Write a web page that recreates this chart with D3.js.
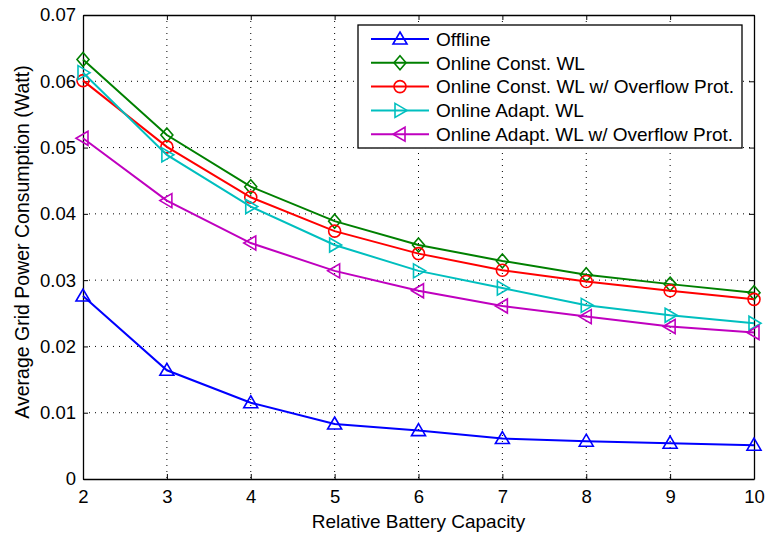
<!DOCTYPE html>
<meta charset="utf-8">
<style>
  body { margin: 0; background: #fff; }
  svg text { font-family: "Liberation Sans", Arial, sans-serif; fill: #000; }
  .grid line { stroke: #000; stroke-width: 1; stroke-dasharray: 1 5; }
  .axis path, .axis line { stroke: #000; }
</style>
<body>
<svg width="766" height="535"></svg>
<script src="https://d3js.org/d3.v7.min.js"></script>
<script>
  // data
  var capacity = [2, 3, 4, 5, 6, 7, 8, 9, 10];
  var offline       = [0.0276, 0.0164, 0.0115, 0.0083, 0.0073, 0.0061, 0.0057, 0.0054, 0.0051];
  var constWL       = [0.0633, 0.0519, 0.0441, 0.0389, 0.0353, 0.0329, 0.0308, 0.0294, 0.0281];
  var constWLProt   = [0.0601, 0.0501, 0.0425, 0.0374, 0.0340, 0.0315, 0.0298, 0.0284, 0.0271];
  var adaptWL       = [0.0613, 0.0489, 0.0411, 0.0353, 0.0314, 0.0288, 0.0262, 0.0247, 0.0235];
  var adaptWLProt   = [0.0514, 0.0420, 0.0356, 0.0314, 0.0284, 0.0261, 0.0245, 0.0230, 0.0221];
  var seriesNames = ["Offline", "Online Const. WL", "Online Const. WL w/ Overflow Prot.",
                     "Online Adapt. WL", "Online Adapt. WL w/ Overflow Prot."];
  var seriesColors = ["#0000ff", "#008000", "#ff0000", "#00bfbf", "#bf00bf"];
  var seriesMarkers = ["up", "diamond", "circle", "right", "left"];
  var yTicks = [0, 0.01, 0.02, 0.03, 0.04, 0.05, 0.06, 0.07];

  var series = [offline, constWL, constWLProt, adaptWL, adaptWLProt];

  // plot box (window.top is reserved, so use other names)
  var pLeft = 83, pRight = 754, pTop = 15, pBottom = 479;
  var x = d3.scaleLinear().domain([2, 10]).range([pLeft, pRight]);
  var y = d3.scaleLinear().domain([0, 0.07]).range([pBottom, pTop]);

  var svg = d3.select("svg");

  // grid
  var grid = svg.append("g").attr("class", "grid");
  grid.selectAll(".gx").data(capacity.slice(1, -1)).enter().append("line")
    .attr("x1", function(d) { return x(d); }).attr("x2", function(d) { return x(d); })
    .attr("y1", pTop).attr("y2", pBottom);
  grid.selectAll(".gy").data(yTicks.slice(1, -1)).enter().append("line")
    .attr("y1", function(d) { return y(d); }).attr("y2", function(d) { return y(d); })
    .attr("x1", pLeft).attr("x2", pRight);

  // axes (ticks inward, box all round)
  svg.append("g").attr("class", "axis").attr("transform", "translate(0," + pBottom + ")")
    .call(d3.axisBottom(x).tickValues(capacity).tickSizeInner(-5).tickSizeOuter(0).tickPadding(11));
  svg.append("g").attr("class", "axis").attr("transform", "translate(" + pLeft + ",0)")
    .call(d3.axisLeft(y).tickValues(yTicks).tickSizeInner(-5).tickSizeOuter(0).tickPadding(7)
      .tickFormat(function(d) { return d === 0 ? "0" : d3.format(".2f")(d); }));
  svg.append("g").attr("class", "axis").attr("transform", "translate(0," + pTop + ")")
    .call(d3.axisTop(x).tickValues(capacity).tickSizeInner(-5).tickSizeOuter(0).tickFormat(""));
  svg.append("g").attr("class", "axis").attr("transform", "translate(" + pRight + ",0)")
    .call(d3.axisRight(y).tickValues(yTicks).tickSizeInner(-5).tickSizeOuter(0).tickFormat(""));
  svg.selectAll(".axis text").style("font-size", "18.5px").attr("fill", "#000");
  svg.selectAll(".axis .domain").attr("stroke-width", 1.3);

  svg.append("text").attr("x", (pLeft + pRight) / 2).attr("y", 528)
    .attr("text-anchor", "middle").style("font-size", "19px").text("Relative Battery Capacity");
  svg.append("text").attr("transform", "translate(29,242) rotate(-90)")
    .attr("text-anchor", "middle").style("font-size", "19.5px").text("Average Grid Power Consumption (Watt)");

  // marker shapes
  function markerPath(type) {
    if (type === "up") return "M0,-7L7,5L-7,5Z";
    if (type === "right") return "M-5,-7L7,0L-5,7Z";
    if (type === "left") return "M5,-7L-7,0L5,7Z";
    if (type === "diamond") return "M0,-7L6,0L0,7L-6,0Z";
    return null;
  }
  function drawMarker(g, type, color) {
    if (type === "circle") {
      g.append("circle").attr("r", 6).attr("fill", "none").attr("stroke", color).attr("stroke-width", 1.6);
    } else {
      g.append("path").attr("d", markerPath(type)).attr("fill", "none")
        .attr("stroke", color).attr("stroke-width", 1.6);
    }
  }

  var line = d3.line().x(function(d, i) { return x(capacity[i]); }).y(function(d) { return y(d); });

  series.forEach(function(vals, s) {
    svg.append("path").datum(vals).attr("d", line).attr("fill", "none")
      .attr("stroke", seriesColors[s]).attr("stroke-width", 2);
    vals.forEach(function(v, i) {
      var g = svg.append("g").attr("transform", "translate(" + x(capacity[i]) + "," + y(v) + ")");
      drawMarker(g, seriesMarkers[s], seriesColors[s]);
    });
  });

  // legend
  var leg = svg.append("g");
  leg.append("rect").attr("x", 358).attr("y", 25).attr("width", 384).attr("height", 123)
    .attr("fill", "#fff").attr("stroke", "#000").attr("stroke-width", 1.3);
  seriesNames.forEach(function(name, s) {
    var cy = 39 + s * 23.8;
    leg.append("line").attr("x1", 371).attr("x2", 429).attr("y1", cy).attr("y2", cy)
      .attr("stroke", seriesColors[s]).attr("stroke-width", 2);
    var g = leg.append("g").attr("transform", "translate(400," + cy + ")");
    drawMarker(g, seriesMarkers[s], seriesColors[s]);
    leg.append("text").attr("x", 436).attr("y", cy + 6.8).style("font-size", "19px").text(name);
  });
</script>
</body>
